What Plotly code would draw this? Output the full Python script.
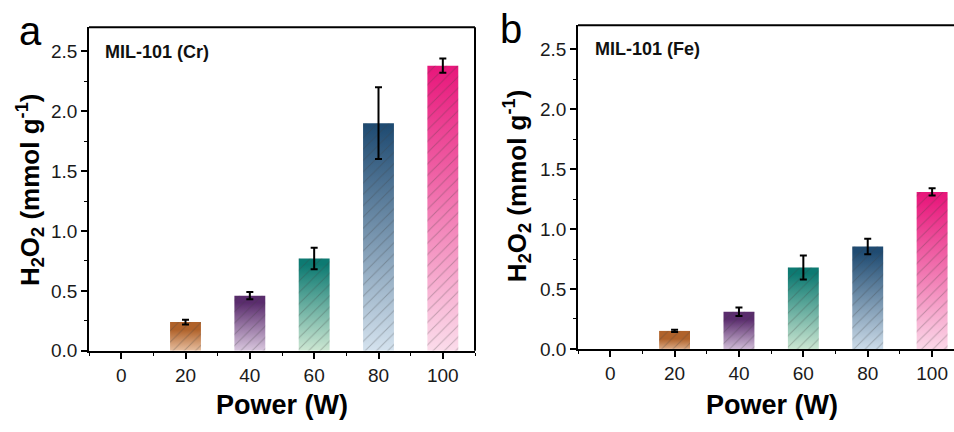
import plotly.graph_objects as go

# ---------------- data ----------------
power = [0, 20, 40, 60, 80, 100]
tick_labels = ["0", "20", "40", "60", "80", "100"]

cr_values = [0.0, 0.24, 0.46, 0.77, 1.90, 2.38]
cr_errors = [0.0, 0.02, 0.03, 0.09, 0.30, 0.06]

fe_values = [0.0, 0.15, 0.31, 0.68, 0.855, 1.31]
fe_errors = [0.0, 0.01, 0.035, 0.10, 0.065, 0.03]

# gradient colours per bar (light bottom, dark top)
light_colors = ["#ffffff", "#fde4cf", "#efe2f2", "#e0f2dc", "#dbe8f3", "#fce2ee"]
dark_colors = ["#ffffff", "#b0622a", "#5a2c6d", "#0d7a72", "#1f4b72", "#e8177b"]

BAR_W = 9.6
FONT = "Liberation Sans, Arial, sans-serif"

fig = go.Figure()


def add_panel(values, errors, xa, ya, xo, yo):
    # gradient bodies
    for p, v, lc, dc in zip(power, values, light_colors, dark_colors):
        if v <= 0:
            continue
        fig.add_trace(go.Scatter(
            x=[p - BAR_W / 2, p + BAR_W / 2, p + BAR_W / 2, p - BAR_W / 2, p - BAR_W / 2],
            y=[0, 0, v, v, 0],
            mode="none", fill="toself",
            fillgradient=dict(type="vertical", start=0, stop=v,
                              colorscale=[[0, lc], [1, dc]]),
            hoverinfo="skip", showlegend=False,
            xaxis=xa, yaxis=ya,
        ))
    # hatched bars with error bars on the overlay axes (zero-height bars omitted)
    keep = [i for i, v in enumerate(values) if v > 0]
    fig.add_trace(go.Bar(
        x=[power[i] for i in keep], y=[values[i] for i in keep], width=BAR_W,
        marker=dict(color="rgba(0,0,0,0)", line=dict(width=0),
                    pattern=dict(shape="/", fgcolor="rgba(60,60,60,0.6)",
                                 bgcolor="rgba(0,0,0,0)", size=8, solidity=0.12)),
        error_y=dict(type="data", array=[errors[i] for i in keep],
                     color="black", thickness=2, width=3.5),
        showlegend=False, xaxis=xo, yaxis=yo,
    ))


add_panel(cr_values, cr_errors, "x", "y", "x3", "y3")
add_panel(fe_values, fe_errors, "x2", "y2", "x4", "y4")

W, H = 954, 432

common_x = dict(
    tickmode="array", tickvals=power, ticktext=tick_labels,
    ticks="outside", ticklen=6, tickwidth=1.5, tickcolor="black",
    minor=dict(dtick=10, ticks="outside", ticklen=3, tickwidth=1.2, tickcolor="black", tick0=0),
    showline=True, linecolor="black", linewidth=1.8,
    showgrid=False, zeroline=False,
    tickfont=dict(family=FONT, size=19, color="#1a1a1a"),
)
common_y = dict(
    range=[0, 2.7], dtick=0.5, tick0=0, tickformat=".1f",
    ticks="outside", ticklen=6, tickwidth=1.5, tickcolor="black",
    minor=dict(dtick=0.25, ticks="outside", ticklen=3, tickwidth=1.2, tickcolor="black"),
    showline=True, linecolor="black", linewidth=1.8,
    showgrid=False, zeroline=False,
    tickfont=dict(family=FONT, size=19, color="#1a1a1a"),
)

xa_dom = [89 / W, 475 / W]
xb_dom = [578 / W, 1.0]
ya_dom = [1 - 360 / H, 1 - 28 / H]
yb_dom = [1 - 358 / H, 1 - 26 / H]

fig.update_layout(
    width=W, height=H,
    margin=dict(l=0, r=0, t=0, b=0),
    paper_bgcolor="white", plot_bgcolor="rgba(0,0,0,0)",
    barmode="overlay",
    xaxis=dict(common_x, domain=xa_dom, range=[-10, 110], anchor="y"),
    yaxis=dict(common_y, domain=ya_dom, anchor="x"),
    xaxis2=dict(common_x, domain=xb_dom, range=[-10, 106.8], anchor="y2",
                ticklabeloverflow="allow"),
    yaxis2=dict(common_y, domain=yb_dom, anchor="x2"),
    xaxis3=dict(domain=xa_dom, range=[-10, 110], overlaying="x", visible=False, anchor="y3"),
    yaxis3=dict(domain=ya_dom, range=[0, 2.7], overlaying="y", visible=False, anchor="x3"),
    xaxis4=dict(domain=xb_dom, range=[-10, 106.8], overlaying="x2", visible=False, anchor="y4"),
    yaxis4=dict(domain=yb_dom, range=[0, 2.7], overlaying="y2", visible=False, anchor="x4"),
)

# box frame (top / right spines)
frame = dict(type="line", line=dict(color="black", width=2), layer="above")
fig.add_shape(frame, xref="x domain", yref="y domain", x0=0, x1=1, y0=1, y1=1)
fig.add_shape(frame, xref="x domain", yref="y domain", x0=1, x1=1, y0=0, y1=1)
fig.add_shape(frame, xref="x2 domain", yref="y2 domain", x0=0, x1=1, y0=1, y1=1)

ann = []
ytitle = "H<sub>2</sub>O<sub>2</sub> (mmol g<sup>-1</sup>)"
for xc, yc in [(30, 195), (517, 191)]:
    ann.append(dict(text=ytitle, x=xc / W, y=1 - yc / H, xref="paper", yref="paper",
                    textangle=-90, showarrow=False, xanchor="center", yanchor="middle",
                    font=dict(family=FONT, size=26, color="black", weight="bold")))
for xc in [282, 772]:
    ann.append(dict(text="Power (W)", x=xc / W, y=1 - 416 / H, xref="paper", yref="paper",
                    showarrow=False, xanchor="center", yanchor="middle",
                    font=dict(family=FONT, size=27, color="black", weight="bold")))
for txt, xc, yc in [("a", 31, 32), ("b", 511, 30)]:
    ann.append(dict(text=txt, x=xc / W, y=1 - yc / H, xref="paper", yref="paper",
                    showarrow=False, xanchor="center", yanchor="middle",
                    font=dict(family=FONT, size=40, color="black")))
for txt, xl, yc in [("MIL-101 (Cr)", 103, 53), ("MIL-101 (Fe)", 593, 50)]:
    ann.append(dict(text=txt, x=xl / W, y=1 - yc / H, xref="paper", yref="paper",
                    showarrow=False, xanchor="left", yanchor="middle",
                    font=dict(family=FONT, size=18, color="#111111", weight="bold")))
fig.update_layout(annotations=ann)

fig.write_html("out.html", config={"displayModeBar": False},
               post_script="document.body.style.margin='0px';")
